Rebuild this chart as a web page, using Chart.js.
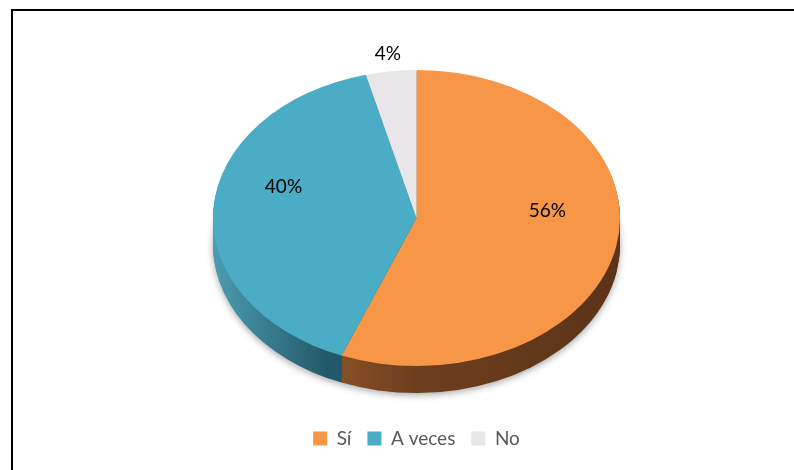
<!DOCTYPE html>
<html>
<head>
<meta charset="utf-8">
<script src="https://cdn.jsdelivr.net/npm/chart.js@4/dist/chart.umd.min.js"></script>
<style>
  html, body { margin: 0; padding: 0; background: #fff; }
  #wrap { position: relative; width: 794px; height: 470px; overflow: hidden; }
  #frame { position: absolute; left: 11px; top: 9px; width: 800px; height: 500px;
           border: 2px solid #000; pointer-events: none; }
  canvas { position: absolute; left: 0; top: 0; }
</style>
</head>
<body>
<div id="wrap">
  <canvas id="chart" width="794" height="470"></canvas>
  <div id="frame"></div>
</div>
<script>
// datos
const categories = ['Sí', 'A veces', 'No'];
const values = [56, 40, 4];
const colors = ['#F79646', '#4BACC6', '#E8E6E8'];

// aspecto 3D (inclinación y grosor)
const TILT = 148 / 203.5;
const FACE_CY = 218;
const DEPTH = 27;

function sideFill(ctx, i, x0, x1) {
    const g = ctx.createLinearGradient(x0, 0, x1, 0);
    if (i === 0) {
        g.addColorStop(0.25, '#8f5529');
        g.addColorStop(0.5, '#6d3e1d');
        g.addColorStop(1, '#5c3318');
    } else if (i === 1) {
        g.addColorStop(0, '#4c9cb2');
        g.addColorStop(0.28, '#22596a');
    } else {
        g.addColorStop(0, '#a5a3a5');
        g.addColorStop(1, '#8a888a');
    }
    return g;
}

function faceTransform(ctx, cx, cy, d) {
    ctx.translate(cx, FACE_CY + d);
    ctx.scale(1, TILT);
    ctx.translate(-cx, -cy);
}

const pie3d = {
    id: 'pie3d',
    beforeDatasetsDraw(chart) {
        const ctx = chart.ctx;
        const arcs = chart.getDatasetMeta(0).data;
        const cx = arcs[0].x, cy = arcs[0].y, r = arcs[0].outerRadius;
        // lados
        for (let d = DEPTH; d >= 1; d--) {
            ctx.save();
            faceTransform(ctx, cx, cy, d);
            if (d === DEPTH) {
                ctx.shadowColor = 'rgba(0,0,0,0.35)';
                ctx.shadowBlur = 7;
                ctx.shadowOffsetY = 2;
            }
            arcs.forEach((arc, i) => {
                const bg = arc.options.backgroundColor;
                arc.options.backgroundColor = sideFill(ctx, i, cx - r, cx + r);
                arc.draw(ctx);
                arc.options.backgroundColor = bg;
            });
            ctx.restore();
        }
        ctx.save();
        faceTransform(ctx, cx, cy, 0);
    },
    afterDatasetsDraw(chart) {
        const ctx = chart.ctx;
        ctx.restore();
        const arcs = chart.getDatasetMeta(0).data;
        const total = values.reduce((a, b) => a + b, 0);
        ctx.save();
        ctx.font = '19px Lato';
        ctx.fillStyle = '#000';
        ctx.textAlign = 'center';
        ctx.textBaseline = 'middle';
        arcs.forEach((arc, i) => {
            const mid = (arc.startAngle + arc.endAngle) / 2;
            const small = values[i] / total < 0.08;
            const f = small ? 1.12 : 0.655;
            const lift = small ? 0 : 25;
            const x = arc.x + Math.cos(mid) * arc.outerRadius * f;
            const y = FACE_CY + Math.sin(mid) * arc.outerRadius * f * TILT - lift;
            ctx.fillText(values[i] + '%', x, y);
        });
        ctx.restore();
    }
};

new Chart(document.getElementById('chart'), {
    type: 'pie',
    data: {
        labels: categories,
        datasets: [{
            data: values,
            backgroundColor: colors,
            borderWidth: 0,
            clip: false,
        }],
    },
    options: {
        responsive: false,
        animation: false,
        layout: { padding: { left: 213, right: 174, top: 0, bottom: 12 } },
        plugins: {
            tooltip: { enabled: false },
            legend: {
                position: 'bottom',
                labels: {
                    boxWidth: 14,
                    boxHeight: 14,
                    padding: 16,
                    color: '#595959',
                    font: { family: 'Lato', size: 19 },
                },
            },
        },
    },
    plugins: [pie3d],
});
</script>
</body>
</html>
